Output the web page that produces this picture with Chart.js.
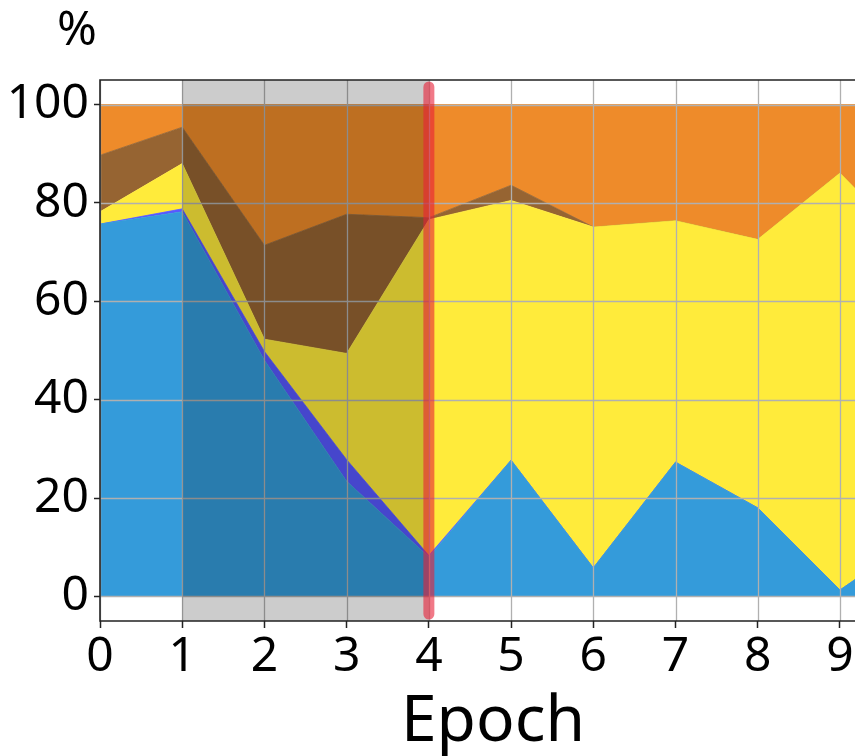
<!DOCTYPE html>
<html>
<head>
<meta charset="utf-8">
<script src="https://cdn.jsdelivr.net/npm/chart.js@4.4.0/dist/chart.umd.min.js"></script>
<style>
  body { margin: 0; background: #fff; overflow: hidden; }
</style>
</head>
<body>
<!-- the original figure is cropped on the right, so the canvas is a bit wider than the window -->
<canvas id="chart" width="890" height="756"></canvas>
<script>
// share of each group per epoch (stacked, sums to 100)
const epochs = [0, 1, 2, 3, 4, 5, 6, 7, 8, 9, 10];
const blueShare = [75.7, 78.2, 48.0, 23.4, 8.0, 27.7, 5.8, 27.3, 18.0, 1.3, 12.8];
const indigoShare = [0.0, 0.6, 1.8, 4.4, 0.3, 0, 0, 0, 0, 0, 0];
const yellowShare = [2.5, 9.2, 2.5, 21.6, 68.3, 52.8, 69.3, 49.1, 54.6, 84.8, 56.2];
const brownShare = [11.5, 7.4, 19.1, 28.3, 0.4, 3.1, 0, 0, 0, 0, 0];
const orangeShare = [10.3, 4.6, 28.6, 22.3, 23.0, 16.4, 24.9, 23.6, 27.4, 13.9, 31.0];

const xTicks = [0, 1, 2, 3, 4, 5, 6, 7, 8, 9];
const yTicks = [0, 20, 40, 60, 80, 100];
const shadeRange = [1, 4];
const markerEpoch = 4;

const FONT = "'Noto Sans', 'DejaVu Sans', sans-serif";

function series(values) {
  return epochs.map((e, i) => ({ x: e, y: values[i] }));
}

function layer(values, color, fill) {
  return {
    data: series(values),
    backgroundColor: color,
    borderColor: color,
    borderWidth: 0.8,
    pointRadius: 0,
    tension: 0,
    fill: fill
  };
}

// grid, shaded span and red marker go on top of the areas
const overlay = {
  id: "overlay",
  afterDatasetsDraw(chart) {
    const { ctx, chartArea: a, scales } = chart;
    const x = scales.x, y = scales.y;
    ctx.save();
    ctx.beginPath();
    ctx.rect(a.left, a.top, a.right - a.left, a.bottom - a.top);
    ctx.clip();

    ctx.strokeStyle = "#b0b0b0";
    ctx.lineWidth = 1.3;
    xTicks.forEach(v => {
      const px = Math.round(x.getPixelForValue(v)) + 0.5;
      ctx.beginPath(); ctx.moveTo(px, a.top); ctx.lineTo(px, a.bottom); ctx.stroke();
    });
    yTicks.forEach(v => {
      const py = Math.round(y.getPixelForValue(v)) + 0.5;
      ctx.beginPath(); ctx.moveTo(a.left, py); ctx.lineTo(a.right, py); ctx.stroke();
    });

    const s0 = x.getPixelForValue(shadeRange[0]);
    const s1 = x.getPixelForValue(shadeRange[1]);
    ctx.fillStyle = "rgba(0,0,0,0.2)";
    ctx.fillRect(s0, a.top, s1 - s0, a.bottom - a.top);

    const mx = x.getPixelForValue(markerEpoch);
    ctx.strokeStyle = "rgba(232,32,55,0.6)";
    ctx.lineWidth = 11;
    ctx.lineCap = "round";
    ctx.beginPath();
    ctx.moveTo(mx, y.getPixelForValue(103.6));
    ctx.lineTo(mx, y.getPixelForValue(-3.6));
    ctx.stroke();
    ctx.restore();
  },
  afterDraw(chart) {
    const { ctx, chartArea: a } = chart;
    ctx.save();
    ctx.strokeStyle = "#222";
    ctx.lineWidth = 1.6;
    ctx.beginPath();
    ctx.rect(a.left, a.top, a.right - a.left, a.bottom - a.top);
    ctx.stroke();

    ctx.fillStyle = "#000";
    ctx.font = "48px " + FONT;
    ctx.textAlign = "center";
    ctx.textBaseline = "middle";
    ctx.fillText("%", 77, 31);
    ctx.restore();
  }
};

new Chart(document.getElementById("chart"), {
  type: "line",
  data: {
    datasets: [
      layer(blueShare, "#349bda", "origin"),
      layer(indigoShare, "#5858ff", "-1"),
      layer(yellowShare, "#ffeb3b", "-1"),
      layer(brownShare, "#966432", "-1"),
      layer(orangeShare, "#ee8b2a", "-1")
    ]
  },
  options: {
    responsive: false,
    animation: false,
    layout: { padding: { top: 80, right: 4, left: 0, bottom: 0 } },
    plugins: { legend: { display: false }, tooltip: { enabled: false } },
    scales: {
      x: {
        type: "linear",
        min: 0,
        max: 9.56,
        afterBuildTicks: s => { s.ticks = xTicks.map(v => ({ value: v })); },
        afterFit: s => { s.height = 135; },
        grid: { color: "transparent", tickColor: "#222", tickLength: 7, tickWidth: 1.5 },
        border: { display: false },
        ticks: { color: "#000", font: { family: FONT, size: 48 }, padding: 1, maxRotation: 0 },
        title: { display: true, text: "Epoch", color: "#000", font: { family: FONT, size: 64 }, padding: { top: 0, bottom: -5 } }
      },
      y: {
        stacked: true,
        min: -5,
        max: 105,
        afterBuildTicks: s => { s.ticks = yTicks.map(v => ({ value: v })); },
        afterFit: s => { s.width = 100; },
        grid: { color: "transparent", tickColor: "#222", tickLength: 6, tickWidth: 1.5 },
        border: { display: false },
        ticks: { color: "#000", font: { family: FONT, size: 48 }, padding: 5 }
      }
    }
  },
  plugins: [overlay]
});
</script>
</body>
</html>
